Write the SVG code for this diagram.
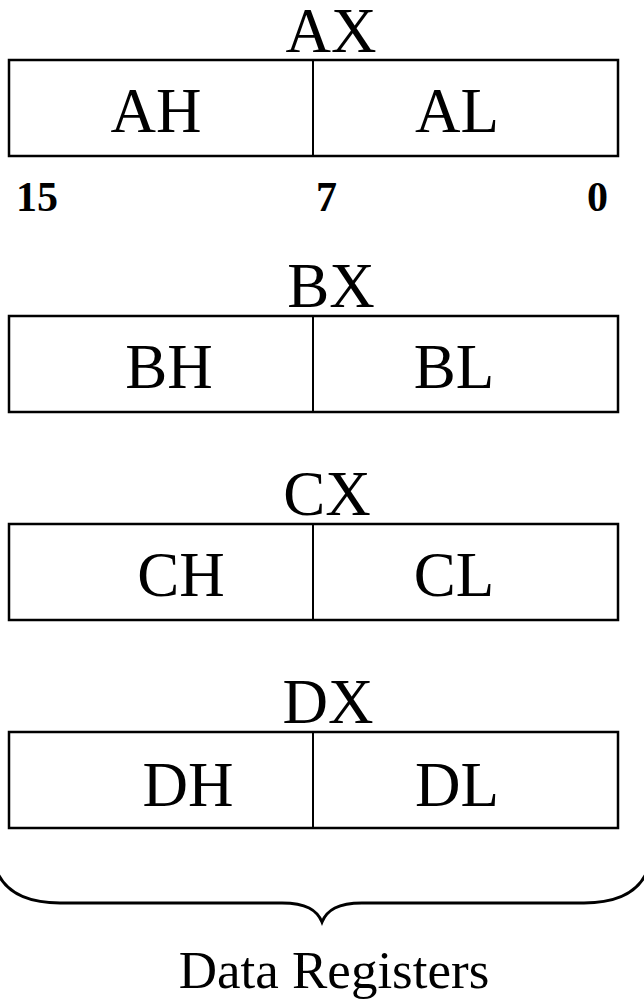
<svg xmlns="http://www.w3.org/2000/svg" width="644" height="1007" viewBox="0 0 644 1007">
  <style>
    .box { fill: #fff; stroke: #000; stroke-width: 2.5; }
    .div { stroke: #000; stroke-width: 2; }
    .name { font-family: "Liberation Serif", "Times New Roman", serif; font-size: 63px; fill: #000; text-anchor: middle; }
    .bit { font-family: "Liberation Serif", "Times New Roman", serif; font-size: 42px; font-weight: bold; fill: #000; }
    .brace { fill: none; stroke: #000; stroke-width: 3; }
  </style>
  <rect width="644" height="1007" fill="#fff"/>

  <!-- AX register -->
  <g id="ax">
    <text class="name" x="331" y="52">AX</text>
    <rect class="box" x="9" y="60" width="609" height="96"/>
    <line class="div" x1="313" y1="60" x2="313" y2="156"/>
    <text class="name" x="156" y="132">AH</text>
    <text class="name" x="457" y="132">AL</text>
  </g>

  <!-- bit positions -->
  <g id="bits">
    <text class="bit" x="16" y="211">15</text>
    <text class="bit" x="316" y="211">7</text>
    <text class="bit" x="608" y="211" text-anchor="end">0</text>
  </g>

  <!-- BX register -->
  <g id="bx">
    <text class="name" x="331" y="307">BX</text>
    <rect class="box" x="9" y="316" width="609" height="96"/>
    <line class="div" x1="313" y1="316" x2="313" y2="412"/>
    <text class="name" x="169" y="388">BH</text>
    <text class="name" x="454" y="388">BL</text>
  </g>

  <!-- CX register -->
  <g id="cx">
    <text class="name" x="327" y="515">CX</text>
    <rect class="box" x="9" y="524" width="609" height="96"/>
    <line class="div" x1="313" y1="524" x2="313" y2="620"/>
    <text class="name" x="181" y="596">CH</text>
    <text class="name" x="454" y="596">CL</text>
  </g>

  <!-- DX register -->
  <g id="dx">
    <text class="name" x="328" y="723">DX</text>
    <rect class="box" x="9" y="732" width="609" height="96"/>
    <line class="div" x1="313" y1="732" x2="313" y2="828"/>
    <text class="name" x="188" y="806">DH</text>
    <text class="name" x="457" y="806">DL</text>
  </g>

  <!-- brace grouping the data registers -->
  <g id="connectors">
    <path class="brace" d="M -2,874 C 8,894 30,903 60,903 L 282,903 C 306,903 317,910 322,922 C 327,910 338,903 362,903 L 584,903 C 614,903 636,894 646,874"/>
  </g>

  <g id="caption">
    <text class="name" x="334" y="988" style="font-size:53px">Data Registers</text>
  </g>
</svg>
